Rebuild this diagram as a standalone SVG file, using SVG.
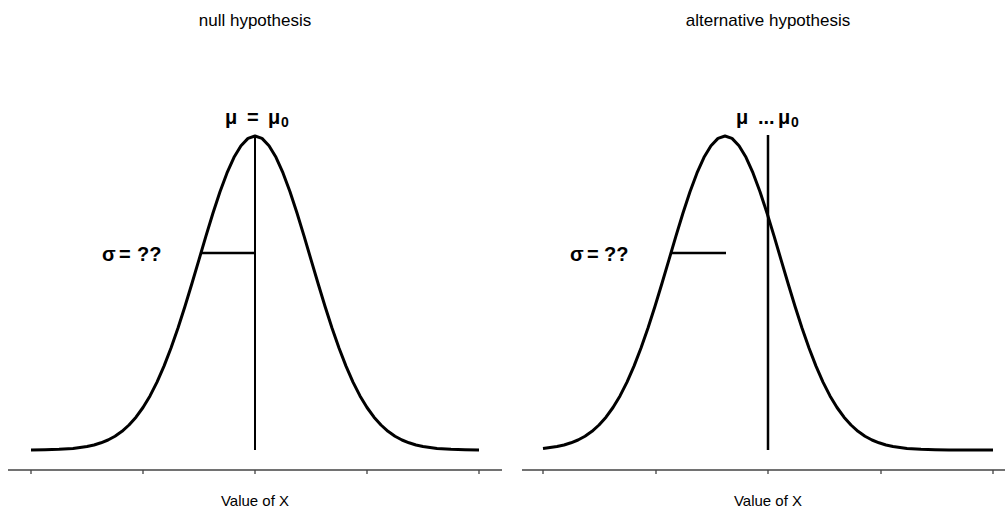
<svg xmlns="http://www.w3.org/2000/svg" width="1005" height="508" viewBox="0 0 1005 508">
<style>
.curve{fill:none;stroke:#000;stroke-width:3;stroke-linejoin:round;stroke-linecap:butt}
.axis{fill:none;stroke:#444;stroke-width:1.3}
.title{font-family:"Liberation Sans",Arial,sans-serif;font-size:17px;fill:#000;text-anchor:middle}
.xlab{font-family:"Liberation Sans",Arial,sans-serif;font-size:15px;fill:#000;text-anchor:middle}
.sym{font-family:"Liberation Sans",Arial,sans-serif;font-size:20px;font-weight:bold;fill:#000}
.sub{font-family:"Liberation Sans",Arial,sans-serif;font-size:14px;font-weight:bold;fill:#000}
</style>
<rect width="1005" height="508" fill="#fff"/>
<g id="null-panel">
<text class="title" x="255" y="26">null hypothesis</text>
<g id="null-axis">
<path class="axis" d="M8,470H502M31,470V474M143,470V474M255,470V474M367,470V474M479,470V474"/>
<text class="xlab" x="255" y="506">Value of X</text>
</g>
<g id="null-curve">
<polyline class="curve" points="31,449.9 45,449.7 59,449.3 73,448.4 87,446.5 94,445 101,442.8 108,440 115,436.2 122,431.3 129,425 136,417.2 143,407.5 150,395.9 157,382.1 164,366.1 171,348 178,328 185,306.3 192,283.2 199,259.6 206,235.9 213,213 220,191.7 227,172.9 234,157.3 241,145.7 248,138.4 255,136 262,138.4 269,145.7 276,157.3 283,172.9 290,191.7 297,213 304,235.9 311,259.6 318,283.2 325,306.3 332,328 339,348 346,366.1 353,382.1 360,395.9 367,407.5 374,417.2 381,425 388,431.3 395,436.2 402,440 409,442.8 416,445 423,446.5 437,448.4 451,449.3 465,449.7 479,449.9"/>
</g>
<g id="null-mean">
<line x1="255" y1="135" x2="255" y2="450" stroke="#000" stroke-width="2"/>
<text class="sym" y="124"><tspan x="225">μ</tspan><tspan x="247">=</tspan><tspan x="268">μ</tspan></text>
<text class="sub" x="281" y="127">0</text>
</g>
<g id="null-sigma">
<line x1="201" y1="253" x2="255" y2="253" stroke="#000" stroke-width="2.5"/>
<text class="sym" y="261"><tspan x="102">σ</tspan><tspan x="119">=</tspan><tspan x="137">??</tspan></text>
</g>
</g>
<g id="alt-panel">
<text class="title" x="768" y="26">alternative hypothesis</text>
<g id="alt-axis">
<path class="axis" d="M522,470H1005M543,470V474M656,470V474M768,470V474M881,470V474M993,470V474"/>
<text class="xlab" x="768" y="506">Value of X</text>
</g>
<g id="alt-curve">
<polyline class="curve" points="543,448.4 557,446.5 564,445 571,442.8 578,440 585,436.2 592,431.3 599,425 606,417.2 613,407.5 620,395.9 627,382.1 634,366.1 641,348 648,328 655,306.3 662,283.2 669,259.6 676,235.9 683,213 690,191.7 697,172.9 704,157.3 711,145.7 718,138.4 725,136 732,138.4 739,145.7 746,157.3 753,172.9 760,191.7 767,213 774,235.9 781,259.6 788,283.2 795,306.3 802,328 809,348 816,366.1 823,382.1 830,395.9 837,407.5 844,417.2 851,425 858,431.3 865,436.2 872,440 879,442.8 886,445 893,446.5 907,448.4 921,449.3 935,449.7 949,449.9 993,450"/>
</g>
<g id="alt-mean">
<line x1="768" y1="135" x2="768" y2="450" stroke="#000" stroke-width="2.5"/>
<text class="sym" y="124"><tspan x="736">μ</tspan><tspan x="758">...</tspan><tspan x="778">μ</tspan></text>
<text class="sub" x="791" y="127">0</text>
</g>
<g id="alt-sigma">
<line x1="671" y1="253" x2="726" y2="253" stroke="#000" stroke-width="2.5"/>
<text class="sym" y="261"><tspan x="570">σ</tspan><tspan x="587">=</tspan><tspan x="604">??</tspan></text>
</g>
</g>
</svg>
